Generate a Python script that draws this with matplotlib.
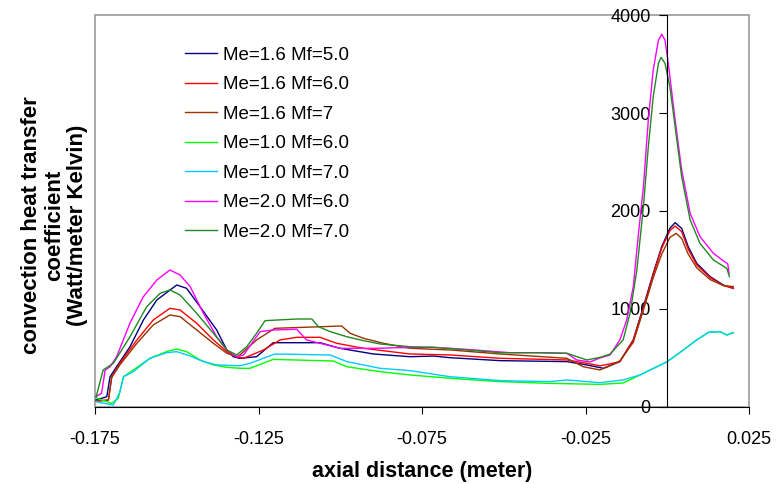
import matplotlib
matplotlib.use("Agg")
import matplotlib.pyplot as plt
from matplotlib.patches import Rectangle

plt.rcParams['font.family'] = ['Liberation Sans', 'DejaVu Sans']

# values (x in meter, y in Watt/meter Kelvin)
x_me16_mf50 = [-0.1747, -0.1714, -0.1704, -0.1684, -0.1643, -0.1602, -0.1561, -0.1500, -0.1470,
               -0.1429, -0.1378, -0.1347, -0.1327, -0.1307, -0.1256, -0.1205, -0.1062, -0.1001,
               -0.0899, -0.0787, -0.0715, -0.0664, -0.0511, -0.0307, -0.0246, -0.0196, -0.0145,
               -0.0104, -0.0073, -0.0043, -0.0017, 0.0008, 0.0024, 0.0044, 0.0064, 0.0090,
               0.0131, 0.0171, 0.0202]
y_me16_mf50 = [71, 105, 309, 411, 615, 888, 1092, 1245, 1211,
               1024, 786, 582, 513, 497, 513, 656, 656, 599,
               541, 513, 520, 503, 473, 463, 429, 395, 463,
               684, 1024, 1364, 1636, 1823, 1881, 1823, 1636, 1466,
               1330, 1245, 1211]

x_me16_mf60 = [-0.1747, -0.1709, -0.1699, -0.1674, -0.1622, -0.1572, -0.1521, -0.1490, -0.1439,
               -0.1388, -0.1347, -0.1317, -0.1296, -0.1235, -0.1184, -0.1133, -0.1062, -0.1011,
               -0.0929, -0.0787, -0.0664, -0.0511, -0.0307, -0.0246, -0.0206, -0.0175, -0.0145,
               -0.0104, -0.0073, -0.0043, -0.0017, 0.0008, 0.0024, 0.0044, 0.0064, 0.0090,
               0.0131, 0.0171, 0.0202]
y_me16_mf60 = [60, 71, 309, 446, 684, 888, 1007, 990, 854,
               684, 565, 513, 497, 582, 684, 711, 711, 650,
               599, 541, 531, 497, 480, 446, 420, 440, 463,
               684, 1010, 1350, 1620, 1800, 1847, 1790, 1610, 1450,
               1320, 1240, 1211]

x_me16_mf7 = [-0.1747, -0.1709, -0.1699, -0.1674, -0.1622, -0.1572, -0.1521, -0.1490, -0.1439,
              -0.1388, -0.1347, -0.1317, -0.1307, -0.1256, -0.1200, -0.1052, -0.0996, -0.0970,
              -0.0929, -0.0868, -0.0787, -0.0664, -0.0511, -0.0307, -0.0257, -0.0206, -0.0175,
              -0.0145, -0.0104, -0.0073, -0.0043, -0.0017, 0.0008, 0.0027, 0.0044, 0.0064,
              0.0090, 0.0131, 0.0171, 0.0202]
y_me16_mf7 = [60, 71, 300, 430, 650, 837, 939, 922, 786,
              650, 548, 513, 531, 684, 803, 820, 827, 752,
              701, 650, 599, 582, 541, 497, 411, 378, 420,
              470, 660, 990, 1320, 1560, 1730, 1772, 1720, 1560,
              1420, 1300, 1240, 1228]

x_me10_mf60 = [-0.1747, -0.1699, -0.1679, -0.1663, -0.1633, -0.1582, -0.1531, -0.1500, -0.1470,
               -0.1429, -0.1388, -0.1347, -0.1307, -0.1276, -0.1205, -0.1021, -0.0980, -0.0878,
               -0.0787, -0.0664, -0.0511, -0.0359, -0.0206, -0.0135, -0.0083, -0.0032, 0.0000,
               0.0049, 0.0090, 0.0126, 0.0161, 0.0182, 0.0202]
y_me10_mf60 = [92, 37, 88, 309, 378, 497, 565, 592, 565,
               480, 429, 405, 395, 395, 486, 469, 411, 360,
               327, 293, 259, 241, 231, 245, 327, 411, 463,
               582, 684, 762, 769, 735, 759]

x_me10_mf70 = [-0.1747, -0.1694, -0.1674, -0.1663, -0.1633, -0.1582, -0.1531, -0.1500, -0.1459,
               -0.1419, -0.1378, -0.1307, -0.1276, -0.1200, -0.1031, -0.0980, -0.0878, -0.0787,
               -0.0664, -0.0511, -0.0359, -0.0307, -0.0206, -0.0135, -0.0083, -0.0032, 0.0000,
               0.0049, 0.0090, 0.0126, 0.0161, 0.0182, 0.0202]
y_me10_mf70 = [54, 20, 150, 309, 360, 497, 554, 565, 520,
               463, 429, 421, 446, 541, 531, 463, 395, 371,
               309, 269, 259, 276, 248, 276, 327, 411, 463,
               582, 684, 762, 769, 735, 759]

x_me20_mf60 = [-0.1747, -0.1730, -0.1719, -0.1704, -0.1684, -0.1643, -0.1603, -0.1561, -0.1521,
               -0.1490, -0.1459, -0.1419, -0.1378, -0.1347, -0.1317, -0.1296, -0.1245, -0.1205,
               -0.1133, -0.1103, -0.1062, -0.1001, -0.0889, -0.0827, -0.0715, -0.0613, -0.0481,
               -0.0389, -0.0307, -0.0277, -0.0236, -0.0206, -0.0175, -0.0145, -0.0124, -0.0104,
               -0.0089, -0.0073, -0.0058, -0.0043, -0.0027, -0.0017, -0.0007, 0.0003, 0.0024,
               0.0044, 0.0070, 0.0100, 0.0141, 0.0171, 0.0185, 0.0189]
y_me20_mf60 = [105, 140, 378, 410, 513, 857, 1122, 1296, 1398,
               1347, 1228, 959, 717, 582, 513, 530, 769, 786,
               793, 684, 650, 599, 599, 605, 609, 588, 554,
               554, 548, 480, 460, 500, 531, 684, 888, 1228,
               1738, 2248, 2929, 3439, 3745, 3803, 3745, 3507, 2929,
               2418, 1976, 1738, 1568, 1493, 1460, 1364]

x_me20_mf70 = [-0.1747, -0.1725, -0.1694, -0.1643, -0.1592, -0.1551, -0.1521, -0.1490, -0.1439,
               -0.1388, -0.1347, -0.1317, -0.1286, -0.1256, -0.1230, -0.1133, -0.1087, -0.1067,
               -0.1031, -0.0980, -0.0929, -0.0878, -0.0787, -0.0715, -0.0613, -0.0511, -0.0389,
               -0.0307, -0.0246, -0.0206, -0.0175, -0.0135, -0.0114, -0.0093, -0.0073, -0.0058,
               -0.0043, -0.0027, -0.0019, -0.0007, 0.0008, 0.0024, 0.0044, 0.0070, 0.0100,
               0.0141, 0.0182, 0.0190]
y_me20_mf70 = [100, 378, 446, 717, 1024, 1160, 1194, 1143, 956,
               752, 582, 531, 615, 752, 881, 898, 898, 820,
               769, 717, 677, 643, 615, 609, 582, 554, 554,
               548, 480, 506, 540, 684, 956, 1398, 2044, 2656,
               3166, 3507, 3568, 3507, 3268, 2860, 2350, 1908, 1670,
               1500, 1415, 1330]

labels = ["Me=1.6 Mf=5.0", "Me=1.6 Mf=6.0", "Me=1.6 Mf=7", "Me=1.0 Mf=6.0",
          "Me=1.0 Mf=7.0", "Me=2.0 Mf=6.0", "Me=2.0 Mf=7.0"]
colors = ['#000080', '#ff0000', '#993300', '#00ff00', '#00ccff', '#ff00ff', '#1f8a1f']

xticks = [-0.175, -0.125, -0.075, -0.025, 0.025]
xtick_labels = ["-0.175", "-0.125", "-0.075", "-0.025", "0.025"]
yticks = [0, 1000, 2000, 3000, 4000]

series = [
    (x_me16_mf50, y_me16_mf50),
    (x_me16_mf60, y_me16_mf60),
    (x_me16_mf7, y_me16_mf7),
    (x_me10_mf60, y_me10_mf60),
    (x_me10_mf70, y_me10_mf70),
    (x_me20_mf60, y_me20_mf60),
    (x_me20_mf70, y_me20_mf70),
]

fig = plt.figure(figsize=(7.84, 4.84), dpi=100)
ax = fig.add_axes([0.1212, 0.1591, 0.8342, 0.8099])

for (xs, ys), lab, col in zip(series, labels, colors):
    ax.plot(xs, ys, color=col, linewidth=1.0, label=lab)

ax.set_xlim(-0.175, 0.025)
ax.set_ylim(0, 4000)

# grey frame around the plot area
ax.add_patch(Rectangle((0, 0), 1, 1, transform=ax.transAxes, fill=False,
                       edgecolor='#999999', linewidth=1.2, clip_on=False, zorder=0))

ax.spines['top'].set_visible(False)
ax.spines['right'].set_visible(False)
ax.spines['left'].set_position(('data', 0))
ax.spines['left'].set_color('black')
ax.spines['bottom'].set_color('black')

ax.set_xticks(xticks)
ax.set_xticklabels(xtick_labels)
ax.set_yticks(yticks)
ax.tick_params(axis='x', direction='out', length=5, pad=12, labelsize=13)
ax.tick_params(axis='y', direction='out', length=6, pad=6, labelsize=13)

ax.set_xlabel("axial distance (meter)", fontsize=15.5, fontweight='bold', labelpad=10)
fig.text(0.070, 0.535, "convection heat transfer\ncoefficient\n(Watt/meter Kelvin)",
         rotation=90, ha='center', va='center', multialignment='center',
         fontsize=16, fontweight='bold', linespacing=1.12)

ax.legend(loc='upper left', bbox_to_anchor=(0.2365, 0.904), bbox_transform=fig.transFigure,
          frameon=False, fontsize=13.5, handlelength=1.7, handletextpad=0.3,
          labelspacing=0.66, borderpad=0, borderaxespad=0)

fig.savefig("out.png", dpi=100)
